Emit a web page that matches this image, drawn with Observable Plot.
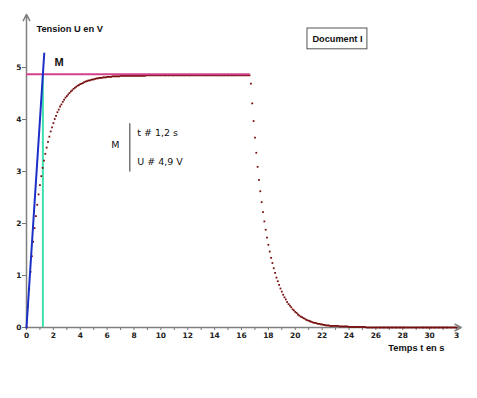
<!DOCTYPE html>
<html><head><meta charset="utf-8">
<script src="https://cdn.jsdelivr.net/npm/d3@7"></script>
<script src="https://cdn.jsdelivr.net/npm/@observablehq/plot@0.6"></script>
<style>
body{margin:0;background:#fff}
#chart{position:relative;width:477px;height:398px}
</style>
</head><body><div id="chart"></div>
<script>
// Recorded samples (one every 0.1 s)
const sampleStep = 0.1;
// Charge phase, starting at t = 0 s
const chargeStart = 0;
const chargeU = [
0,0.39,0.74,1.07,1.37,1.65,1.91,2.14,2.36,2.56,
2.74,2.91,3.07,3.21,3.34,3.46,3.57,3.67,3.77,3.85,
3.93,4.01,4.07,4.14,4.19,4.25,4.29,4.34,4.38,4.42,
4.45,4.48,4.51,4.54,4.56,4.59,4.61,4.63,4.65,4.66,
4.68,4.69,4.70,4.72,4.73,4.74,4.75,4.75,4.76,4.77,
4.77,4.78,4.79,4.79,4.80,4.80,4.80,4.81,4.81,4.81,
4.82,4.82,4.82,4.82,4.83,4.83,4.83,4.83,4.83,4.83,
4.84,4.84,4.84,4.84,4.84,4.84,4.84,4.84,4.84,4.84,
4.84,4.84,4.84,4.84,4.84,4.84,4.84,4.84,4.84,4.85,
4.85,4.85,4.85,4.85,4.85,4.85,4.85,4.85,4.85,4.85,
4.85,4.85,4.85,4.85,4.85,4.85,4.85,4.85,4.85,4.85,
4.85,4.85,4.85,4.85,4.85,4.85,4.85,4.85,4.85,4.85,
4.85,4.85,4.85,4.85,4.85,4.85,4.85,4.85,4.85,4.85,
4.85,4.85,4.85,4.85,4.85,4.85,4.85,4.85,4.85,4.85,
4.85,4.85,4.85,4.85,4.85,4.85,4.85,4.85,4.85,4.85,
4.85,4.85,4.85,4.85,4.85,4.85,4.85,4.85,4.85,4.85,
4.85,4.85,4.85,4.85,4.85,4.85,4.85
];
// Discharge phase, starting at t = 16.7 s
const dischargeStart = 16.7;
const dischargeU = [
4.69,4.31,3.97,3.65,3.36,3.09,2.84,2.62,2.41,2.22,
2.04,1.88,1.73,1.59,1.46,1.34,1.24,1.14,1.05,0.96,
0.89,0.82,0.75,0.69,0.63,0.58,0.54,0.49,0.45,0.42,
0.39,0.35,0.33,0.30,0.28,0.25,0.23,0.21,0.20,0.18,
0.17,0.15,0.14,0.13,0.12,0.11,0.10,0.09,0.09,0.08,
0.07,0.07,0.06,0.06,0.05,0.05,0.04,0.04,0.04,0.03,
0.03,0.03,0.03,0.03,0.03,0.03,0.02,0.02,0.02,0.02,
0.02,0.02,0.02,0.01,0.01,0.01,0.01,0.01,0.01,0.01,
0.01,0.01,0.01,0.01,0.01,0.01,0,0,0,0,
0,0,0,0,0,0,0,0,0,0,
0,0,0,0,0,0,0,0,0,0,
0,0,0,0,0,0,0,0,0,0,
0,0,0,0,0,0,0,0,0,0,
0,0,0,0,0,0,0,0,0,0,
0,0,0,0,0,0,0,0,0,0,
0,0,0,0
];
// Construction lines
const asymptoteU = 4.87;
const asymptoteEnd = 16.65;
const tangentT = [0, 1.32];
const tangentU = [0, 5.27];
const tauT = 1.22;
// Axes
const xMinorTicks = [0,1,2,3,4,5,6,7,8,9,10,11,12,13,14,15,16,17,18,19,20,21,22,23,24,25,26,27,28,29,30,31,32];
const xLabelTicks = [0,2,4,6,8,10,12,14,16,18,20,22,24,26,28,30,32];
const xTickLabels = ["0","2","4","6","8","10","12","14","16","18","20","22","24","26","28","30","3"];
const yTicks = [0,1,2,3,4,5];
const yTickLabels = ["0","1","2","3","4","5"];
const xMax = 32, yMax = 6;

const points = [
  ...chargeU.map((u, i) => ({t: chargeStart + i * sampleStep, u})),
  ...dischargeU.map((u, i) => ({t: dischargeStart + i * sampleStep, u}))
];
const tangent = tangentT.map((t, i) => ({t, u: tangentU[i]}));
const xLabelMap = new Map(xLabelTicks.map((v, i) => [v, xTickLabels[i]]));

const sans = "Liberation Sans, Arial, sans-serif";
const dv = "DejaVu Sans, sans-serif";

const chart = Plot.plot({
  width: 477, height: 398,
  marginLeft: 26, marginRight: 21, marginTop: 15, marginBottom: 71,
  x: {domain: [0, xMax], axis: null},
  y: {domain: [0, yMax], axis: null},
  style: {background: "#fff", fontFamily: sans, overflow: "visible"},
  marks: [
    Plot.axisX({ticks: xMinorTicks, tickSize: 3, tickPadding: 2, label: null,
      tickFormat: d => xLabelMap.get(d) ?? "", stroke: "#777", fill: "#222",
      fontSize: 7.5, fontWeight: "bold", fontFamily: dv}),
    Plot.axisY({ticks: yTicks, tickSize: 4, tickPadding: 1, label: null,
      tickFormat: d => yTickLabels[d], stroke: "#777", fill: "#222",
      fontSize: 7.5, fontWeight: "bold", fontFamily: dv}),
    Plot.arrow([0], {x1: 0, y1: 0, x2: xMax + 0.35, y2: 0, stroke: "#808080", strokeWidth: 1.5, headLength: 7, headAngle: 55}),
    Plot.arrow([0], {x1: 0, y1: 0, x2: 0, y2: yMax + 0.02, stroke: "#808080", strokeWidth: 1.5, headLength: 7, headAngle: 55}),
    Plot.ruleX([tauT], {y1: 0, y2: asymptoteU, stroke: "#3fe0ae", strokeWidth: 2}),
    Plot.dot(points, {x: "t", y: "u", r: 1, symbol: "square", fill: "#760c0c"}),
    Plot.ruleY([asymptoteU], {x1: 0, x2: asymptoteEnd, stroke: "#d2428c", strokeWidth: 2}),
    Plot.line(tangent, {x: "t", y: "u", stroke: "#1c2fc6", strokeWidth: 2}),
    // Labels
    Plot.text(["Tension U en V"], {x: 0.74, y: 5.74, text: d => d, textAnchor: "start", fontSize: 9.3, fontWeight: "bold", fill: "#111"}),
    Plot.text(["Temps t en s"], {x: 26.93, y: -0.39, text: d => d, textAnchor: "start", fontSize: 9.3, fontWeight: "bold", fill: "#111"}),
    Plot.text(["M"], {x: 2.42, y: 5.10, text: d => d, fontSize: 11, fontWeight: "bold", fill: "#111"}),
    Plot.rect([0], {x1: 20.91, x2: 25.37, y1: 5.35, y2: 5.75, fill: "none", stroke: "#555", strokeWidth: 1}),
    Plot.text(["Document I"], {x: 23.14, y: 5.55, text: d => d, fontSize: 9.2, fontWeight: "bold", fill: "#111"}),
    Plot.text(["M"], {x: 6.62, y: 3.51, text: d => d, fontSize: 9.5, fontFamily: dv, fill: "#111"}),
    Plot.ruleX([7.69], {y1: 2.99, y2: 3.92, stroke: "#333", strokeWidth: 1}),
    Plot.text(["t # 1,2 s"], {x: 8.24, y: 3.74, text: d => d, textAnchor: "start", fontSize: 9.5, fontFamily: dv, fill: "#111"}),
    Plot.text(["U # 4,9 V"], {x: 8.24, y: 3.18, text: d => d, textAnchor: "start", fontSize: 9.5, fontFamily: dv, fill: "#111"})
  ]
});
document.getElementById("chart").appendChild(chart);
</script>
</body></html>
